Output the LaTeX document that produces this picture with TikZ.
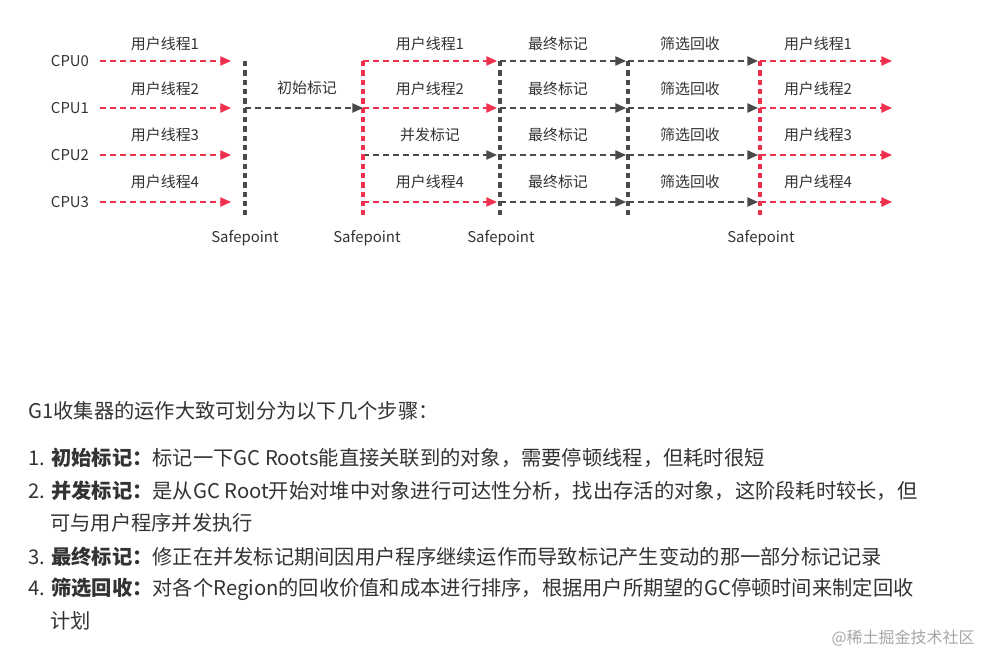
\documentclass[tikz,border=0pt]{standalone}
\usepackage{fontspec}
\setmainfont{Noto Sans CJK SC}
\usetikzlibrary{arrows.meta}
\definecolor{rd}{HTML}{F0304F}
\definecolor{gr}{HTML}{4A4A4A}
\definecolor{tx}{HTML}{333333}
\begin{document}
\begin{tikzpicture}[x=0.75pt,y=-0.75pt,
  ra/.style={rd,densely dashed,line width=1pt,dash pattern=on 4.5pt off 3pt,-{Triangle[length=8pt,width=7pt]}},
  ga/.style={gr,line width=1pt,dash pattern=on 4.5pt off 3pt,-{Triangle[length=8pt,width=7pt]}},
  rv/.style={rd,line width=3pt,dash pattern=on 4pt off 3pt},
  gv/.style={gr,line width=3pt,dash pattern=on 4pt off 3pt},
  lb/.style={font=\fontsize{11.2}{13}\selectfont,text=tx,inner sep=0pt},
  bt/.style={font=\fontsize{15.2}{18}\selectfont,text=tx,inner sep=0pt,anchor=west}]
\useasboundingbox (0,0) rectangle (981,656);
% rows
\foreach \i/\y in {0/61,1/108,2/155,3/202}{
  \node[lb] (cpu\i) at (70,\y) {CPU\i};
  \coordinate (a\i) at (100,\y); \coordinate (b\i) at (231,\y);
  \coordinate (c\i) at (363,\y); \coordinate (d\i) at (497,\y);
  \coordinate (e\i) at (500,\y); \coordinate (f\i) at (626,\y);
  \coordinate (g\i) at (628,\y); \coordinate (h\i) at (758,\y);
  \coordinate (k\i) at (760,\y); \coordinate (m\i) at (892,\y);
  \draw[ra] (a\i) -- (b\i);
  \draw[ga] (e\i) -- (f\i);
  \draw[ga] (g\i) -- (h\i);
  \draw[ra] (k\i) -- (m\i);
}
\foreach \i in {0,1,3}{\draw[ra] (c\i) -- (d\i);}
\draw[ga] (c2) -- (d2);
% verticals
\coordinate (s1t) at (245,61); \coordinate (s1b) at (245,215);
\coordinate (s2t) at (363,61); \coordinate (s2b) at (363,215);
\coordinate (s3t) at (500,61); \coordinate (s3b) at (500,215);
\coordinate (s4t) at (628,61); \coordinate (s4b) at (628,215);
\coordinate (s5t) at (760,61); \coordinate (s5b) at (760,215);
\draw[gv] (s1t) -- (s1b);
\draw[rv] (s2t) -- (s2b);
\draw[gv] (s3t) -- (s3b);
\draw[gv] (s4t) -- (s4b);
\draw[rv] (s5t) -- (s5b);
\coordinate (i0) at (245,108);
\draw[ga] (i0) -- (c1);
% labels
\foreach \i/\y in {1/44,2/89,3/135,4/182}{
  \node[lb] (u\i) at (165,\y) {用户线程\i};
  \node[lb] (z\i) at (558,\y) {最终标记};
  \node[lb] (x\i) at (690,\y) {筛选回收};
  \node[lb] (w\i) at (818,\y) {用户线程\i};
}
\node[lb] (v1) at (430,44) {用户线程1};
\node[lb] (v2) at (430,89) {用户线程2};
\node[lb] (v3) at (430,135) {并发标记};
\node[lb] (v4) at (430,182) {用户线程4};
\node[lb] (init) at (307,88) {初始标记};
\node[lb] (sp1) at (245,238) {Safepoint};
\node[lb] (sp2) at (367,238) {Safepoint};
\node[lb] (sp3) at (501,238) {Safepoint};
\node[lb] (sp4) at (761,238) {Safepoint};
% text
\node[bt] (t0) at (28,411) {G1收集器的运作大致可划分为以下几个步骤：};
\node[bt] (t1) at (28,458) {1. \textbf{初始标记：}标记一下GC Roots能直接关联到的对象，需要停顿线程，但耗时很短};
\node[bt] (t2) at (28,491) {2. \textbf{并发标记：}是从GC Root开始对堆中对象进行可达性分析，找出存活的对象，这阶段耗时较长，但};
\node[bt] (t2b) at (50,523) {可与用户程序并发执行};
\node[bt] (t3) at (28,557) {3. \textbf{最终标记：}修正在并发标记期间因用户程序继续运作而导致标记产生变动的那一部分标记记录};
\node[bt] (t4) at (28,589) {4. \textbf{筛选回收：}对各个Region的回收价值和成本进行排序，根据用户所期望的GC停顿时间来制定回收};
\node[bt] (t4b) at (50,621) {计划};
\node[font=\fontsize{12}{14}\selectfont,text=black!35,inner sep=0pt,anchor=east] (wm) at (975,638) {@稀土掘金技术社区};
\end{tikzpicture}
\end{document}
